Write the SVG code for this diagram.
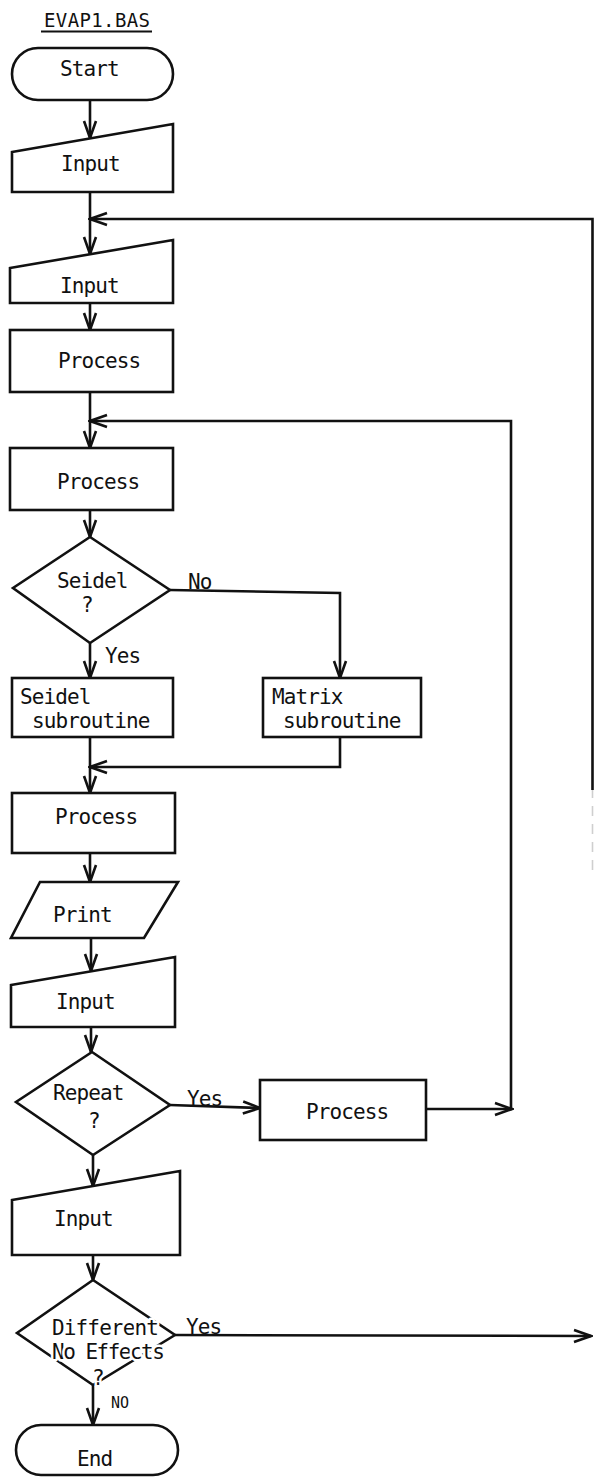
<svg xmlns="http://www.w3.org/2000/svg" width="594" height="1477" viewBox="0 0 594 1477">
  <style>
    .shape { fill: #ffffff; stroke: #111111; stroke-width: 2.6; stroke-linejoin: miter; }
    .wire { fill: none; stroke: #111111; stroke-width: 2.6; }
    .faint { fill: none; stroke: #cfcfcf; stroke-width: 1.6; stroke-dasharray: 10 8; }
    .lbl { font-family: "DejaVu Sans Mono", "Liberation Mono", monospace; font-size: 21px; letter-spacing: -0.9px; fill: #111111; }
    .head { font-size: 19px; letter-spacing: 0px; }
    .halo { paint-order: stroke; stroke: #ffffff; stroke-width: 5px; stroke-linejoin: round; }
    .small { font-size: 15px; letter-spacing: 0px; }
  </style>
  <defs>
    <marker id="arrow" markerUnits="userSpaceOnUse" markerWidth="20" markerHeight="16" viewBox="-18 -8 20 16" refX="0" refY="0" orient="auto">
      <path d="M-17,-6 L0,0 L-17,6" fill="none" stroke="#111111" stroke-width="2.6"/>
    </marker>
  </defs>
  <rect width="594" height="1477" fill="#ffffff"/>

  <!-- program title -->
  <g id="title">
    <text class="lbl head" x="44" y="27" textLength="106">EVAP1.BAS</text>
    <line x1="41" y1="31.5" x2="152" y2="31.5" stroke="#111111" stroke-width="1.8"/>
  </g>

  <!-- connectors -->
  <g id="connectors">
    <path class="wire" d="M90,100 L90,138" marker-end="url(#arrow)"/>
    <path class="wire" d="M90,192 L90,254" marker-end="url(#arrow)"/>
    <path class="wire" d="M90,303 L90,330" marker-end="url(#arrow)"/>
    <path class="wire" d="M90,392 L90,448" marker-end="url(#arrow)"/>
    <path class="wire" d="M90,510 L90,537" marker-end="url(#arrow)"/>
    <path class="wire" d="M90,643 L90,678" marker-end="url(#arrow)"/>
    <path class="wire" d="M170,590 L340,593 L340,678" marker-end="url(#arrow)"/>
    <path class="wire" d="M90,737 L90,793" marker-end="url(#arrow)"/>
    <path class="wire" d="M340,737 L340,767 L90,767" marker-end="url(#arrow)"/>
    <path class="wire" d="M90,853 L90,882" marker-end="url(#arrow)"/>
    <path class="wire" d="M91,938 L91,971" marker-end="url(#arrow)"/>
    <path class="wire" d="M91,1027 L91,1052" marker-end="url(#arrow)"/>
    <path class="wire" d="M170,1105 L260,1108" marker-end="url(#arrow)"/>
    <path class="wire" d="M426,1109 L512,1109" marker-end="url(#arrow)"/>
    <path class="wire" d="M511,1109 L511,421 L90,421" marker-end="url(#arrow)"/>
    <path class="wire" d="M93,1155 L93,1186" marker-end="url(#arrow)"/>
    <path class="wire" d="M93,1255 L93,1280" marker-end="url(#arrow)"/>
    <path class="wire" d="M175,1335 L591,1336" marker-end="url(#arrow)"/>
    <path class="wire" d="M93,1385 L93,1425" marker-end="url(#arrow)"/>
    <path class="faint" d="M592.5,870 L592.5,790"/>
    <path class="wire" d="M592.5,790 L592.5,219 L90,219" marker-end="url(#arrow)"/>
  </g>

  <g id="start">
    <rect class="shape" x="12" y="48" width="161" height="52" rx="26" ry="26"/>
    <text class="lbl" x="60" y="76">Start</text>
  </g>

  <g id="input1">
    <polygon class="shape" points="12,152 173,124 173,192 12,192"/>
    <text class="lbl" x="61" y="171">Input</text>
  </g>

  <g id="input2">
    <polygon class="shape" points="10,268 173,240 173,303 10,303"/>
    <text class="lbl" x="60" y="293">Input</text>
  </g>

  <g id="process1">
    <rect class="shape" x="10" y="330" width="163" height="62"/>
    <text class="lbl" x="58" y="368">Process</text>
  </g>

  <g id="process2">
    <rect class="shape" x="10" y="448" width="163" height="62"/>
    <text class="lbl" x="57" y="489">Process</text>
  </g>

  <g id="seidel-decision">
    <polygon class="shape" points="90,537 170,590 90,643 13,588"/>
    <text class="lbl" x="57" y="588">Seidel</text>
    <text class="lbl" x="81" y="612">?</text>
    <text class="lbl" x="188" y="589">No</text>
    <text class="lbl" x="105" y="663">Yes</text>
  </g>

  <g id="seidel-sub">
    <rect class="shape" x="12" y="678" width="161" height="59"/>
    <text class="lbl" x="20" y="704">Seidel</text>
    <text class="lbl" x="32" y="728">subroutine</text>
  </g>

  <g id="matrix-sub">
    <rect class="shape" x="263" y="678" width="158" height="59"/>
    <text class="lbl" x="272" y="704">Matrix</text>
    <text class="lbl" x="283" y="728">subroutine</text>
  </g>

  <g id="process3">
    <rect class="shape" x="12" y="793" width="163" height="60"/>
    <text class="lbl" x="55" y="824">Process</text>
  </g>

  <g id="print">
    <polygon class="shape" points="40,882 178,882 144,938 11,938"/>
    <text class="lbl" x="53" y="922">Print</text>
  </g>

  <g id="input3">
    <polygon class="shape" points="11,985 175,957 175,1027 11,1027"/>
    <text class="lbl" x="56" y="1009">Input</text>
  </g>

  <g id="repeat-decision">
    <polygon class="shape" points="92,1052 170,1105 93,1155 16,1102"/>
    <text class="lbl" x="53" y="1100">Repeat</text>
    <text class="lbl" x="88" y="1128">?</text>
    <text class="lbl" x="187" y="1106">Yes</text>
  </g>

  <g id="process4">
    <rect class="shape" x="260" y="1080" width="166" height="60"/>
    <text class="lbl" x="306" y="1119">Process</text>
  </g>

  <g id="input4">
    <polygon class="shape" points="12,1200 180,1171 180,1255 12,1255"/>
    <text class="lbl" x="54" y="1226">Input</text>
  </g>

  <g id="effects-decision">
    <polygon class="shape" points="93,1280 175,1335 93,1385 17,1333"/>
    <text class="lbl halo" x="52" y="1335" textLength="106">Different</text>
    <text class="lbl halo" x="52" y="1359" textLength="112">No Effects</text>
    <text class="lbl halo" x="92" y="1385" font-size="18">?</text>
    <text class="lbl" x="186" y="1334">Yes</text>
    <text class="lbl small" x="111" y="1408">NO</text>
  </g>

  <g id="end">
    <rect class="shape" x="16" y="1425" width="162" height="50" rx="25" ry="25"/>
    <text class="lbl" x="77" y="1466">End</text>
  </g>
</svg>
